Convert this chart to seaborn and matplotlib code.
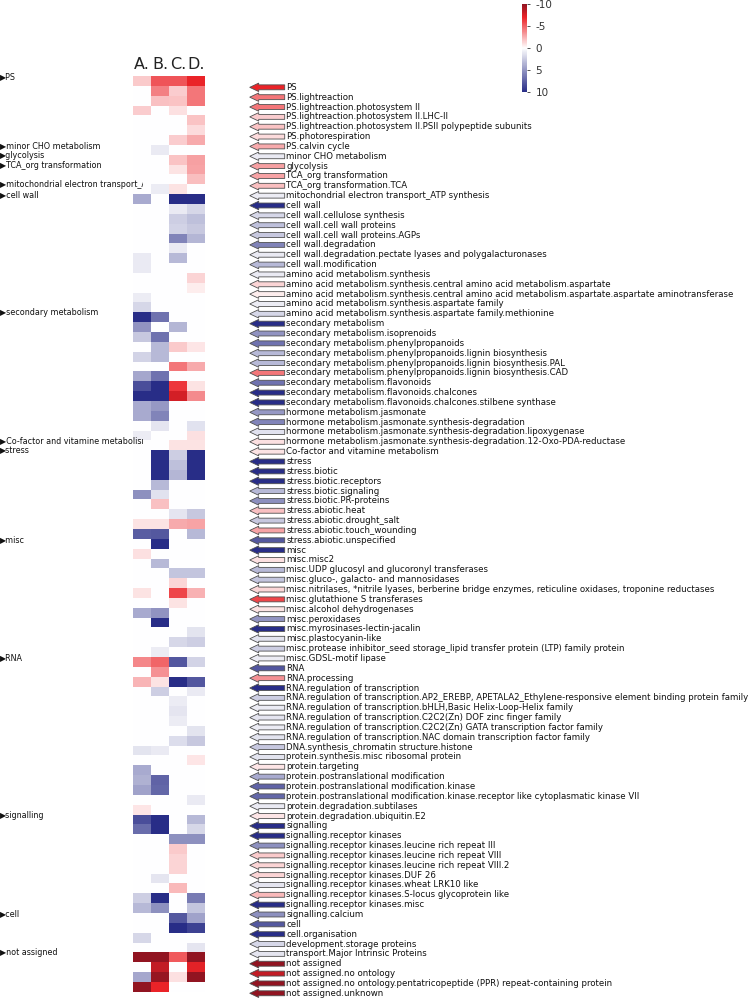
import numpy as np
import pandas as pd
import matplotlib
matplotlib.use("Agg")
import matplotlib.pyplot as plt
import seaborn as sns
from matplotlib.colors import LinearSegmentedColormap, Normalize
from matplotlib.patches import Polygon

# === Data: bins (rows) and the four comparisons A-D ===
rows = [
    "PS", "PS.lightreaction", "PS.lightreaction.photosystem II",
    "PS.lightreaction.photosystem II.LHC-II",
    "PS.lightreaction.photosystem II.PSII polypeptide subunits",
    "PS.photorespiration", "PS.calvin cycle", "minor CHO metabolism", "glycolysis",
    "TCA_org transformation", "TCA_org transformation.TCA",
    "mitochondrial electron transport_ATP synthesis", "cell wall",
    "cell wall.cellulose synthesis", "cell wall.cell wall proteins",
    "cell wall.cell wall proteins.AGPs", "cell wall.degradation",
    "cell wall.degradation.pectate lyases and polygalacturonases", "cell wall.modification",
    "amino acid metabolism.synthesis",
    "amino acid metabolism.synthesis.central amino acid metabolism.aspartate",
    "amino acid metabolism.synthesis.central amino acid metabolism.aspartate.aspartate aminotransferase",
    "amino acid metabolism.synthesis.aspartate family",
    "amino acid metabolism.synthesis.aspartate family.methionine",
    "secondary metabolism", "secondary metabolism.isoprenoids",
    "secondary metabolism.phenylpropanoids",
    "secondary metabolism.phenylpropanoids.lignin biosynthesis",
    "secondary metabolism.phenylpropanoids.lignin biosynthesis.PAL",
    "secondary metabolism.phenylpropanoids.lignin biosynthesis.CAD",
    "secondary metabolism.flavonoids", "secondary metabolism.flavonoids.chalcones",
    "secondary metabolism.flavonoids.chalcones.stilbene synthase",
    "hormone metabolism.jasmonate", "hormone metabolism.jasmonate.synthesis-degradation",
    "hormone metabolism.jasmonate.synthesis-degradation.lipoxygenase",
    "hormone metabolism.jasmonate.synthesis-degradation.12-Oxo-PDA-reductase",
    "Co-factor and vitamine metabolism", "stress", "stress.biotic", "stress.biotic.receptors",
    "stress.biotic.signaling", "stress.biotic.PR-proteins", "stress.abiotic.heat",
    "stress.abiotic.drought_salt", "stress.abiotic.touch_wounding",
    "stress.abiotic.unspecified", "misc", "misc.misc2",
    "misc.UDP glucosyl and glucoronyl transferases",
    "misc.gluco-, galacto- and mannosidases",
    "misc.nitrilases, *nitrile lyases, berberine bridge enzymes, reticuline oxidases, troponine reductases",
    "misc.glutathione S transferases", "misc.alcohol dehydrogenases", "misc.peroxidases",
    "misc.myrosinases-lectin-jacalin", "misc.plastocyanin-like",
    "misc.protease inhibitor_seed storage_lipid transfer protein (LTP) family protein",
    "misc.GDSL-motif lipase", "RNA", "RNA.processing", "RNA.regulation of transcription",
    "RNA.regulation of transcription.AP2_EREBP, APETALA2_Ethylene-responsive element binding protein family",
    "RNA.regulation of transcription.bHLH,Basic Helix-Loop-Helix family",
    "RNA.regulation of transcription.C2C2(Zn) DOF zinc finger family",
    "RNA.regulation of transcription.C2C2(Zn) GATA transcription factor family",
    "RNA.regulation of transcription.NAC domain transcription factor family",
    "DNA.synthesis_chromatin structure.histone", "protein.synthesis.misc ribosomal protein",
    "protein.targeting", "protein.postranslational modification",
    "protein.postranslational modification.kinase",
    "protein.postranslational modification.kinase.receptor like cytoplasmatic kinase VII",
    "protein.degradation.subtilases", "protein.degradation.ubiquitin.E2", "signalling",
    "signalling.receptor kinases", "signalling.receptor kinases.leucine rich repeat III",
    "signalling.receptor kinases.leucine rich repeat VIII",
    "signalling.receptor kinases.leucine rich repeat VIII.2",
    "signalling.receptor kinases.DUF 26", "signalling.receptor kinases.wheat LRK10 like",
    "signalling.receptor kinases.S-locus glycoprotein like", "signalling.receptor kinases.misc",
    "signalling.calcium", "cell", "cell.organisation", "development.storage proteins",
    "transport.Major Intrinsic Proteins", "not assigned", "not assigned.no ontology",
    "not assigned.no ontology.pentatricopeptide (PPR) repeat-containing protein",
    "not assigned.unknown",
]

col_a = [-1.7, 0, 0, -1.6, 0, 0, 0, 0, 0, 0, 0, 0, 4.0, 0, 0, 0, 0, 0, 1.0, 1.0,
         0, 0, 0.9, 1.9, 10, 5.1, 2.6, 0, 2.1, 0, 4.2, 8.4, 10, 4.0, 4.0, 0, 0.9, 0,
         0, 0, 0, 0, 5.3, 0, 0, -0.9, 7.7, 0, -1.0, 0, 0, 0, -0.9, 0, 4.0, 0, 0, 0,
         0, -3.8, 0, -2.4, 0, 0, 0, 0, 0, 0, 1.3, 0, 4.0, 3.7, 4.4, 0, -0.8, 8.4,
         7.0, 0, 0, 0, 0, 0, 0, 2.3, 3.3, 0, 0, 1.9, 0, -10, 0, 4.2, -10]
col_b = [-5.4, -4.0, -2.0, 0, 0, 0, 0, 1.0, 0, 0, 0, 0.9, 0, 0, 0, 0, 0, 0, 0, 0,
         0, 0, 0, 0, 6.7, 0, 6.7, 3.3, 3.3, 0, 6.7, 10, 10, 4.9, 5.8, 1.2, 0, 0,
         10, 10, 10, 3.3, 1.4, -2.0, 0, -0.9, 7.9, 10, 0, 3.3, 0, 0, 0, 0, 5.1, 10,
         0, 0, 0.9, -4.9, -3.5, -0.9, 2.3, 0, 0, 0, 0, 0, 1.0, 0, 0, 7.4, 7.2, 0, 0,
         10, 10, 0, 0, 0, 0, 1.2, 0, 10, 5.3, 0, 0, 0, 0, -10, -8.3, -9.8, -7.0]
col_c = [-5.4, -1.6, -1.9, -1.0, 0, 0, -1.6, 0, -1.9, -0.9, 0, -0.9, 10, 1.0, 2.3,
         2.1, 5.8, 1.0, 3.3, 0, 0, 0, 0, 0, 0, 3.5, 0, -1.7, 0, -4.3, 0, -6.4, -7.8,
         0, 0, 0, 0, -0.9, 2.3, 3.0, 3.5, 0, 0, 0, 1.2, -2.7, 0, 0, 0, 0, 2.8, -1.3,
         -5.9, -0.9, 0, 0, 0, 1.9, 0, 8.0, 0, 10, 0, 0.9, 1.2, 0.9, 0, 1.6, 0, 0, 0,
         0, 0, 0, 0, 0, 0, 5.3, -1.7, -1.4, -1.4, 0, -2.2, 0, 0, 7.9, 10, 0, 0, -5.3,
         0, -1.0, 0]
col_d = [-7.0, -4.3, -4.3, 0, -1.9, -1.1, -2.7, 0, -3.0, -2.9, -2.1, 0, 10, 1.9, 3.0,
         2.6, 3.5, 0, 0, 0, -1.4, -0.6, 0, 0, 0, 0, 0, -0.8, 0, -2.7, 0, -0.9, -3.7,
         0, 0, 1.4, -1.0, -0.9, 10, 10, 10, 0, 0, 0, 2.6, -2.9, 3.3, 0, 0, 0, 2.8, 0,
         -2.5, 0, 0, 0, 1.3, 2.3, 0, 2.1, 0, 8.0, 1.0, 0, 0, 0, 1.3, 2.6, 0, -0.8, 0,
         0, 0, 1.0, 0, 3.3, 1.9, 5.3, 0, 0, 0, 0, 0, 6.3, 2.8, 4.4, 9.0, 0, 1.2, -10,
         -7.2, -10, 0]

columns = ["A.", "B.", "C.", "D."]

# main categories shown on the far left
categories = ["PS", "minor CHO metabolism", "glycolysis", "TCA_org transformation",
              "mitochondrial electron transport_ATP synthesis", "cell wall",
              "secondary metabolism", "Co-factor and vitamine metabolism", "stress",
              "misc", "RNA", "signalling", "cell", "not assigned"]

df = pd.DataFrame({"A.": col_a, "B.": col_b, "C.": col_c, "D.": col_d}, index=rows)

# red (negative) - white - blue (positive)
cmap = LinearSegmentedColormap.from_list(
    "rwb", [(0.0, "#911421"), (0.15, "#eb2328"), (0.5, "#ffffff"), (1.0, "#282d87")])
norm = Normalize(vmin=-10, vmax=10)

plt.rcParams["font.family"] = ["DejaVu Sans"]
fig = plt.figure(figsize=(7.5, 9.99), dpi=100)
W, H = 750, 999
TOP, BOTTOM = 76, 991.8
row_h = (BOTTOM - TOP) / len(rows)


def px_axes(x0, y0, x1, y1):
    return fig.add_axes([x0 / W, 1 - y1 / H, (x1 - x0) / W, (y1 - y0) / H])


def row_axes(x0, x1, y0=60, y1=999):
    # axes whose y data unit is one heatmap row
    a = px_axes(x0, y0, x1, y1)
    a.set_xlim(0, x1 - x0)
    a.set_ylim((y1 - TOP) / row_h, (y0 - TOP) / row_h)
    a.axis("off")
    return a


ax = px_axes(133, TOP, 205, BOTTOM)
cax = px_axes(522, 4, 527, 92)

sns.heatmap(df, ax=ax, cmap=cmap, vmin=-10, vmax=10, cbar_ax=cax,
            xticklabels=True, yticklabels=False)
ax.xaxis.tick_top()
ax.set_xticklabels(columns, rotation=0)
ax.tick_params(axis="x", length=0, labelsize=11.5, pad=3, colors="#222222")
ax.set_xlabel("")
ax.set_ylabel("")

# colorbar: -10 on top
cbar = ax.collections[0].colorbar
cbar.outline.set_visible(False)
cax.invert_yaxis()
cax.set_yticks([-10, -5, 0, 5, 10])
cax.set_yticklabels(["-10", "-5", "0", "5", "10"])
cax.tick_params(labelsize=7.5, length=2, width=0.6, pad=4, colors="#333333")

# === Right: arrows coloured by the strongest value + bin names ===
lab = row_axes(240, 750)
vals = df.values
strongest = vals[np.arange(len(rows)), np.abs(vals).argmax(axis=1)]
for i, (name, v) in enumerate(zip(rows, strongest)):
    y = i + 1.15
    pts = [(9.7, y), (18.7, y - 0.43), (18.7, y - 0.25), (44.7, y - 0.25),
           (44.7, y + 0.25), (18.7, y + 0.25), (18.7, y + 0.43)]
    lab.add_patch(Polygon(pts, closed=True, fc=cmap(norm(v)), ec="#505050", lw=0.6))
    lab.text(46.5, y, name, fontsize=6.2, va="center", ha="left", color="#111111")

# === Left: main categories ===
left = row_axes(0, 143)
for cat in categories:
    i = rows.index(cat)
    left.text(0, i + 0.05, "\u25b6" + cat, fontsize=5.8, va="center", ha="left",
              color="#111111", clip_on=True)

fig.savefig("out.png", dpi=100)
